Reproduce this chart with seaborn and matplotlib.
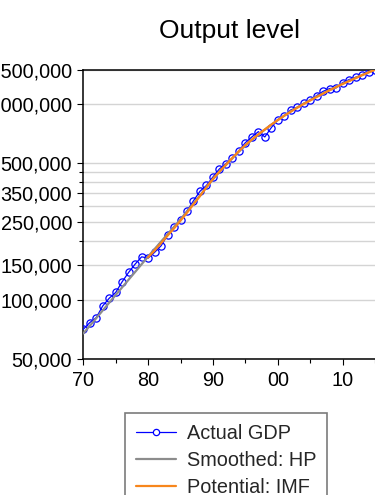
import numpy as np
import pandas as pd
import matplotlib
matplotlib.use("Agg")
import matplotlib.pyplot as plt
from matplotlib.ticker import FixedLocator, FixedFormatter, NullFormatter
from matplotlib.lines import Line2D
import seaborn as sns

# ---------------- data ----------------
years_actual = list(range(1970, 2016))
actual_gdp = [70900, 76700, 81300, 93300, 102100, 109300, 124000, 138400, 152500, 166100,
              163500, 175100, 189000, 214400, 237100, 256600, 285300, 320900, 358800, 384100,
              424600, 466600, 496000, 530300, 577900, 634900, 679000, 722700, 679000, 757600,
              832400, 869400, 932700, 961800, 1008000, 1049000, 1104000, 1161000, 1199000, 1208000,
              1286000, 1332000, 1369000, 1408000, 1464000, 1499000]

years_hp = list(range(1970, 2016))
hp_trend = [67500, 73800, 80800, 88500, 96900, 106100, 116100, 127100, 139100, 152300,
            166700, 182000, 198600, 216800, 236000, 258000, 283000, 311000, 341000, 376000,
            413000, 450000, 488000, 528000, 571000, 614000, 656000, 698000, 740000, 784000,
            828000, 872000, 916000, 960000, 1004000, 1047000, 1091000, 1135000, 1179000, 1223000,
            1268000, 1313000, 1358000, 1404000, 1450000, 1497000]

years_imf = list(range(1980, 2016))
imf_potential = [165000, 179000, 195000, 213000, 232000, 254000, 279000, 308000, 339000, 376000,
                 415000, 452000, 490000, 531000, 575000, 617000, 659000, 700000, 741000, 785000,
                 828000, 871000, 914000, 957000, 1000000, 1042000, 1086000, 1130000, 1175000, 1219000,
                 1265000, 1309000, 1355000, 1403000, 1449000, 1496000]

series_labels = ["Actual GDP", "Smoothed: HP", "Potential: IMF"]
title_text = "Output level"

x_major = [1970, 1980, 1990, 2000, 2010]
x_major_labels = ["70", "80", "90", "00", "10"]
x_minor = [1975, 1985, 1995, 2005, 2015]

y_major = [50000, 100000, 150000, 250000, 350000, 500000, 1000000, 1500000]
y_major_labels = ["50,000", "100,000", "150,000", "250,000", "350,000", "500,000",
                  "1,000,000", "1,500,000"]
y_minor = [200000, 300000, 400000, 450000]

# ---------------- style ----------------
sns.set_theme(style="white")
plt.rcParams['font.family'] = ['Liberation Sans', 'DejaVu Sans']

BLUE = "#0000FF"
GRAY = "#8C8C8C"
ORANGE = "#F7861C"

fig = plt.figure(figsize=(3.75, 4.95), dpi=100)
ax = fig.add_axes([83.3 / 375, 1 - 359 / 495, 1.0 - 83.3 / 375, (359 - 69.5) / 495])

df_a = pd.DataFrame({"year": years_actual, "value": actual_gdp})
df_h = pd.DataFrame({"year": years_hp, "value": hp_trend})
df_i = pd.DataFrame({"year": years_imf, "value": imf_potential})

sns.lineplot(data=df_a, x="year", y="value", ax=ax, color=BLUE, lw=0.9,
             marker="o", markersize=5.2, markerfacecolor="none",
             markeredgecolor=BLUE, markeredgewidth=0.9, zorder=3)
sns.lineplot(data=df_h, x="year", y="value", ax=ax, color=GRAY, lw=1.6, zorder=4)
sns.lineplot(data=df_i, x="year", y="value", ax=ax, color=ORANGE, lw=1.6, zorder=5)

ax.set_yscale("log")
ax.set_xlim(1970, 2015)
ax.set_ylim(50000, 1500000)

ax.yaxis.set_major_locator(FixedLocator(y_major))
ax.yaxis.set_major_formatter(FixedFormatter(y_major_labels))
ax.yaxis.set_minor_locator(FixedLocator(y_minor))
ax.yaxis.set_minor_formatter(NullFormatter())

ax.xaxis.set_major_locator(FixedLocator(x_major))
ax.xaxis.set_major_formatter(FixedFormatter(x_major_labels))
ax.xaxis.set_minor_locator(FixedLocator(x_minor))

ax.set_xlabel("")
ax.set_ylabel("")

ax.set_axisbelow(True)
ax.yaxis.grid(True, which="both", color="#D4D4D4", lw=1.0)
ax.xaxis.grid(False)

for side in ["left", "bottom", "top"]:
    ax.spines[side].set_visible(True)
    ax.spines[side].set_color("black")
    ax.spines[side].set_linewidth(1.1)
ax.spines["right"].set_visible(False)

ax.tick_params(axis="both", which="major", direction="out", length=4.5, width=0.8,
               color="black", labelsize=14.3, labelcolor="black")
ax.tick_params(axis="both", which="minor", direction="out", length=2.8, width=0.8,
               color="black")
ax.tick_params(axis="x", which="major", pad=4.5)
ax.tick_params(axis="y", which="major", pad=3.5)
ax.tick_params(left=True, bottom=True, which="both")

ax.set_title(title_text, fontsize=19, color="black", pad=23)

handles = [
    Line2D([], [], color=BLUE, lw=0.9, marker="o", markersize=4.5,
           markerfacecolor="white", markeredgecolor=BLUE, markeredgewidth=0.9),
    Line2D([], [], color=GRAY, lw=1.6),
    Line2D([], [], color=ORANGE, lw=1.6),
]
leg = ax.legend(handles, series_labels, loc="upper left",
                bbox_to_anchor=(125 / 375, 1 - 413 / 495), bbox_transform=fig.transFigure,
                fontsize=14.3, frameon=True, fancybox=False, numpoints=1,
                handlelength=2.0, handletextpad=0.55, labelspacing=0.4,
                borderpad=0.55, borderaxespad=0.0)
leg.get_frame().set_edgecolor("#5A5A5A")
leg.get_frame().set_linewidth(1.2)
leg.get_frame().set_facecolor("white")

fig.savefig("out.png", dpi=100)
